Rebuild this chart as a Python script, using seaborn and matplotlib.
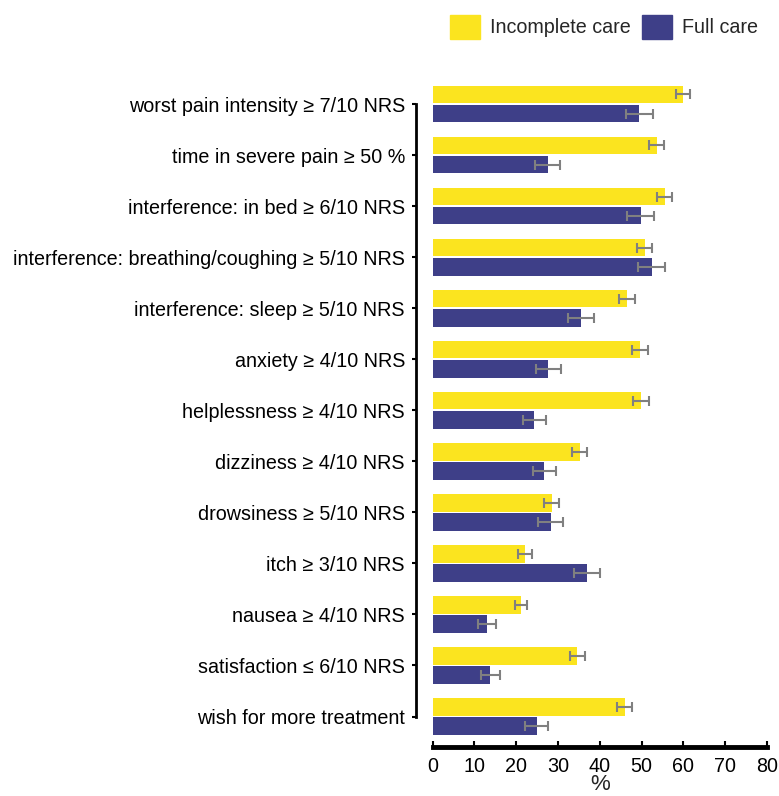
import numpy as np
import pandas as pd
import matplotlib
matplotlib.use("Agg")
import matplotlib.pyplot as plt
import seaborn as sns

# data (percent, with error half-widths)
items = [
    "worst pain intensity \u2265 7/10 NRS",
    "time in severe pain \u2265 50 %",
    "interference: in bed \u2265 6/10 NRS",
    "interference: breathing/coughing \u2265 5/10 NRS",
    "interference: sleep \u2265 5/10 NRS",
    "anxiety \u2265 4/10 NRS",
    "helplessness \u2265 4/10 NRS",
    "dizziness \u2265 4/10 NRS",
    "drowsiness \u2265 5/10 NRS",
    "itch \u2265 3/10 NRS",
    "nausea \u2265 4/10 NRS",
    "satisfaction \u2264 6/10 NRS",
    "wish for more treatment",
]
incomplete = [60.0, 53.6, 55.6, 50.8, 46.5, 49.7, 49.9, 35.2, 28.5, 22.1, 21.1, 34.6, 46.0]
incomplete_err = [1.7, 1.9, 1.8, 1.8, 1.9, 1.9, 1.9, 1.8, 1.75, 1.6, 1.5, 1.75, 1.8]
full = [49.5, 27.5, 49.8, 52.4, 35.5, 27.7, 24.3, 26.7, 28.3, 36.9, 13.0, 13.8, 24.9]
full_err = [3.2, 2.9, 3.2, 3.3, 3.1, 2.9, 2.8, 2.8, 3.0, 3.1, 2.2, 2.3, 2.8]
groups = ["Incomplete care", "Full care"]
colors = ["#FBE41F", "#3E3F88"]

df = pd.DataFrame({
    "item": items * 2,
    "group": [groups[0]] * len(items) + [groups[1]] * len(items),
    "value": incomplete + full,
    "err": incomplete_err + full_err,
})

sns.set_style("ticks")
plt.rcParams["font.family"] = ["Liberation Sans", "DejaVu Sans"]
fs = 14.2

fig = plt.figure(figsize=(7.79, 7.96), dpi=100)
ax = fig.add_axes([0.5555, 0.0678, 0.4288, 0.8336])

sns.barplot(data=df, x="value", y="item", hue="group", order=items,
            hue_order=groups, palette=colors, saturation=1, orient="h",
            width=0.75, gap=0.08, errorbar=None, linewidth=0, legend=False,
            ax=ax)

# error bars at the centre of each drawn bar
vals = incomplete + full
errs = incomplete_err + full_err
for patch, v, e in zip(ax.patches, vals, errs):
    yc = patch.get_y() + patch.get_height() / 2
    ax.errorbar(v, yc, xerr=e, fmt="none", ecolor="#808080",
                elinewidth=1.5, capsize=3.5, capthick=1.5)

ax.set_xlim(0, 80)
ax.set_ylim(12.5, -0.5)
ax.set_xticks(np.arange(0, 81, 10))
ax.set_xlabel("%", fontsize=16, labelpad=-1)
ax.set_ylabel("")
ax.tick_params(axis="y", length=3, width=1.5, pad=5, labelsize=fs, colors="black")
ax.tick_params(axis="x", direction="in", length=4, width=1.5, pad=7, labelsize=fs, colors="black")

sns.despine(ax=ax, offset={"left": 12, "bottom": 3.5}, trim=True)
ax.spines["left"].set_linewidth(2)
ax.spines["left"].set_color("black")
ax.spines["bottom"].set_linewidth(3.5)
ax.spines["bottom"].set_color("black")

handles = [plt.Rectangle((0, 0), 1, 1, color=c) for c in colors]
fig.legend(handles, groups, loc="upper right", bbox_to_anchor=(0.996, 1.004),
           ncol=2, frameon=False, fontsize=fs, handlelength=1.52,
           handleheight=1.52, handletextpad=0.5, columnspacing=0.6)

fig.savefig("out.png", dpi=100)
